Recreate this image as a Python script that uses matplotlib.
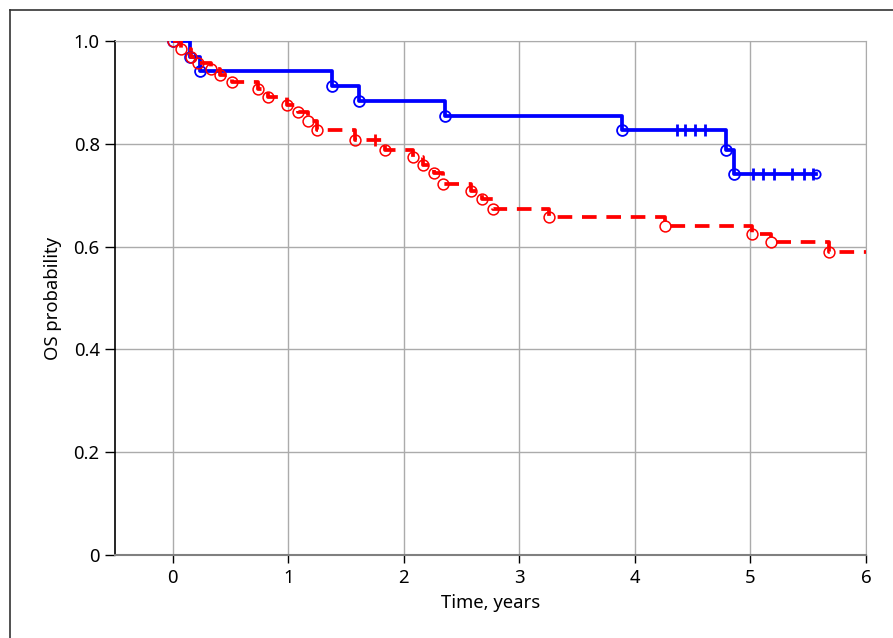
import matplotlib
matplotlib.use("Agg")
import matplotlib.pyplot as plt
from matplotlib.lines import Line2D

plt.rcParams['font.family'] = ['Noto Sans', 'DejaVu Sans']

# blue group: event times and survival after each event
blue_times = [0.0, 0.15, 0.24, 1.375, 1.61, 2.36, 3.89, 4.79, 4.86]
blue_surv = [1.0, 0.969, 0.942, 0.912, 0.883, 0.854, 0.827, 0.788, 0.741]
blue_end = 5.57
blue_censor = [4.36, 4.43, 4.52, 4.61, 5.02, 5.11, 5.20, 5.36, 5.46, 5.54]

# red group
red_times = [0.0, 0.07, 0.16, 0.22, 0.33, 0.41, 0.51, 0.74, 0.82, 0.99, 1.08,
             1.17, 1.25, 1.58, 1.84, 2.08, 2.17, 2.26, 2.34, 2.58, 2.68, 2.77,
             3.26, 4.26, 5.01, 5.18, 5.68]
red_surv = [1.0, 0.984, 0.969, 0.957, 0.946, 0.934, 0.920, 0.906, 0.891, 0.876,
            0.861, 0.845, 0.827, 0.807, 0.788, 0.774, 0.759, 0.743, 0.722, 0.708,
            0.692, 0.674, 0.658, 0.641, 0.625, 0.609, 0.589]
red_end = 6.0
red_censor = [1.75]

xticks = [0, 1, 2, 3, 4, 5, 6]
yticks = [0, 0.2, 0.4, 0.6, 0.8, 1.0]
ylabels = ['0', '0.2', '0.4', '0.6', '0.8', '1.0']


def km_value(times, surv, t):
    s = surv[0]
    for ti, si in zip(times, surv):
        if ti <= t:
            s = si
    return s


fig = plt.figure(figsize=(8.93, 6.38), dpi=100)
ax = fig.add_axes([115 / 893, 1 - 555 / 638, 751 / 893, 514 / 638])

# frame around the figure (left and top edges only visible)
fig.add_artist(Line2D([10 / 893, 10 / 893], [0, 1 - 10 / 638], color='#333333', lw=1.2))
fig.add_artist(Line2D([10 / 893, 1], [1 - 10 / 638, 1 - 10 / 638], color='#333333', lw=1.2))

# blue curve
ax.step(blue_times + [blue_end], blue_surv + [blue_surv[-1]], where='post',
        color='#0000ff', lw=2.7, zorder=3)
ax.plot(blue_times, blue_surv, 'o', mfc='none', mec='#0000ff', ms=7.8, mew=1.3, zorder=4)
ax.plot(blue_censor, [km_value(blue_times, blue_surv, t) for t in blue_censor], '|',
        color='#0000ff', ms=9, mew=2, zorder=4)
ax.plot([blue_end], [blue_surv[-1]], 'o', mfc='none', mec='#0000ff', ms=6, mew=1.3, zorder=4)

# red curve
ax.step(red_times + [red_end], red_surv + [red_surv[-1]], where='post',
        color='#ff0000', lw=2.7, linestyle=(0, (3.9, 2.6)), zorder=3)
ax.plot(red_times, red_surv, 'o', mfc='none', mec='#ff0000', ms=7.8, mew=1.1, zorder=4)
ax.plot(red_censor, [km_value(red_times, red_surv, t) for t in red_censor], '|',
        color='#ff0000', ms=9, mew=2, zorder=4)

ax.set_xlim(-0.5, 6)
ax.set_ylim(0, 1.0)
ax.set_xticks(xticks)
ax.set_yticks(yticks)
ax.set_yticklabels(ylabels)
ax.grid(True, color='#ababab', lw=1)
ax.set_axisbelow(True)

ax.spines['left'].set_color('black')
ax.spines['left'].set_linewidth(1.2)
ax.spines['bottom'].set_color('#808080')
ax.spines['bottom'].set_linewidth(1.5)
ax.spines['top'].set_color('#ababab')
ax.spines['right'].set_color('#ababab')

ax.tick_params(axis='both', labelsize=13.3, colors='black', width=1, length=6, pad=4)
ax.tick_params(axis='y', length=7)
ax.set_xlabel('Time, years', fontsize=13.3, labelpad=5)
ax.set_ylabel('OS probability', fontsize=13.3, labelpad=8)

fig.savefig('out.png', dpi=100)
